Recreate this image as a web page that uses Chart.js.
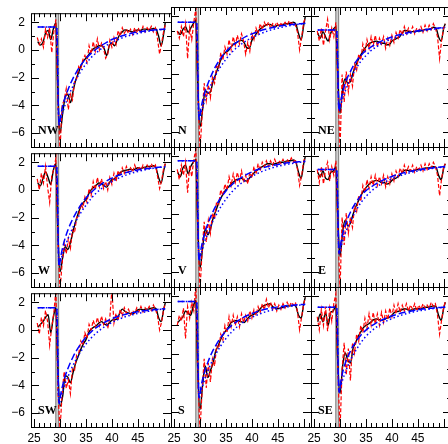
<!DOCTYPE html>
<html>
<head>
<meta charset="utf-8">
<script src="https://cdn.jsdelivr.net/npm/chart.js@4.4.0/dist/chart.umd.min.js"></script>
<style>
  html, body { margin: 0; padding: 0; background: #fff; }
  #grid { position: relative; width: 448px; height: 444px; overflow: hidden; }
  #grid canvas { position: absolute; }
</style>
</head>
<body>
<div id="grid"></div>
<script>
// shared x positions
const blackX = [25.7, 26.2, 26.7, 27.2, 27.7, 28.2, 28.7, 29.2, 29.5, 30.0, 30.5, 31.0, 31.5, 32.0, 32.5, 33.0, 33.5, 34.0, 34.5, 35.0, 35.5, 36.0, 36.5, 37.0, 37.5, 38.0, 38.5, 39.0, 39.5, 40.0, 40.5, 41.0, 41.5, 42.0, 42.5, 43.0, 43.5, 44.0, 44.5, 45.0, 45.5, 46.0, 46.5, 47.0, 47.5, 48.0, 48.5, 49.0, 49.5, 50.0, 50.3];
const redX = [25.6, 26.0, 26.4, 26.8, 27.2, 27.6, 28.0, 28.4, 28.8, 29.2, 29.6, 30.0, 30.4, 30.8, 31.2, 31.6, 32.0, 32.4, 32.8, 33.2, 33.6, 34.0, 34.4, 34.8, 35.2, 35.6, 36.0, 36.4, 36.8, 37.2, 37.6, 38.0, 38.4, 38.8, 39.2, 39.6, 40.0, 40.4, 40.8, 41.2, 41.6, 42.0, 42.4, 42.8, 43.2, 43.6, 44.0, 44.4, 44.8, 45.2, 45.6, 46.0, 46.4, 46.8, 47.2, 47.6, 48.0, 48.4, 48.8, 49.2, 49.6, 50.0, 50.3];
const fitX = [25.7, 29.35, 29.8, 30.2, 30.6, 31.0, 31.5, 32.0, 32.5, 33.0, 34.0, 35.0, 36.0, 37.0, 38.0, 39.0, 40.0, 41.0, 42.0, 43.0, 44.0, 45.0, 46.0, 47.0, 48.0, 49.0, 50.3];

const xTicks = [25, 30, 35, 40, 45];
const yTicks = [-6, -4, -2, 0, 2];
const xMin = 24.4, xMax = 51.4;
const yMin = -7, yMax = 2.65;
const divider = 29.45;

const panelNames = ['NW', 'N', 'NE', 'W', 'V', 'E', 'SW', 'S', 'SE'];

const nwBlack = [0.6, 0.35, 0.55, 1.2, 1.4, 0.75, 1.5, 1.95, -2.0, -6.0, -4.6, -3.4, -3.2, -3.8, -3.0, -2.2, -1.7, -1.2, -0.8, -0.6, -0.35, -0.1, 0.1, 0.2, 0.3, 0.3, 0.1, -0.4, 0.3, 0.5, 0.3, 0.7, 1.1, 1.3, 1.45, 1.4, 1.35, 1.3, 1.4, 1.45, 1.4, 1.5, 1.5, 1.45, 1.5, 1.55, 1.5, 1.0, 0.3, 1.2, 2.0];
const nwRed = [0.9, 0.4, 0.8, 0.2, 1.5, 0.9, 1.6, -0.2, 1.3, 2.2, -4.0, -7.2, -4.0, -3.6, -2.8, -4.3, -3.2, -3.6, -2.3, -2.1, -1.2, -1.4, -0.7, -0.4, -0.9, 0.3, -0.3, 0.6, -0.1, 0.8, 0.0, 0.5, 0.1, -0.6, -0.3, 0.7, 0.2, 0.9, 0.4, 1.4, 1.0, 1.6, 1.2, 1.5, 1.2, 1.5, 1.1, 1.6, 1.2, 1.6, 1.3, 1.7, 1.3, 1.6, 1.4, 1.7, 1.3, 1.6, 0.8, -0.3, 0.5, 1.4, 1.8];
const nwFit = [1.65, 1.65, -5.4, -4.6, -3.9, -3.4, -2.9, -2.45, -2.05, -1.7, -1.1, -0.62, -0.25, 0.07, 0.33, 0.55, 0.75, 0.9, 1.03, 1.13, 1.22, 1.29, 1.35, 1.4, 1.44, 1.47, 1.5];
const nwFit2 = [1.65, 1.65, -5.4, -4.9, -4.4, -3.95, -3.45, -3.0, -2.6, -2.2, -1.55, -1.0, -0.55, -0.2, 0.1, 0.35, 0.55, 0.72, 0.87, 1.0, 1.1, 1.19, 1.27, 1.34, 1.4, 1.45, 1.5];

const nBlack = [0.95, 0.75, 1.1, 1.3, 0.9, 1.2, 1.5, 1.75, -2.0, -5.6, -4.4, -3.1, -3.3, -3.2, -2.5, -2.0, -1.5, -1.0, -0.65, -0.45, -0.35, -0.1, 0.1, 0.2, 0.3, 0.35, 0.2, -0.15, -0.2, 0.35, 0.6, 0.9, 1.1, 1.25, 1.35, 1.45, 1.45, 1.35, 1.3, 1.4, 1.4, 1.45, 1.5, 1.5, 1.55, 1.6, 1.45, 0.8, 0.4, 1.4, 2.0];
const nRed = [1.0, 0.5, 1.3, 0.6, 1.5, -0.9, 1.2, 0.4, 1.6, 2.6, -3.5, -7.2, -4.8, -2.6, -3.8, -2.7, -3.6, -2.2, -2.6, -1.4, -1.6, -0.5, -1.0, -0.1, -0.6, 0.4, -0.3, 0.6, 0.0, 0.7, 0.1, 0.8, 0.3, -0.6, 0.2, -0.4, 0.8, 0.4, 1.2, 0.8, 1.5, 1.1, 1.6, 1.3, 1.6, 1.2, 1.5, 1.3, 1.6, 1.3, 1.5, 1.4, 1.6, 1.4, 1.7, 1.5, 1.6, 1.4, 0.9, -0.3, 0.6, 1.6, 1.9];
const nFit = [1.6, 1.6, -5.1, -4.3, -3.65, -3.15, -2.65, -2.2, -1.8, -1.45, -0.88, -0.42, -0.08, 0.2, 0.44, 0.64, 0.8, 0.94, 1.06, 1.16, 1.24, 1.31, 1.37, 1.42, 1.46, 1.5, 1.53];
const nFit2 = [1.6, 1.6, -5.1, -4.6, -4.15, -3.7, -3.25, -2.8, -2.4, -2.05, -1.45, -0.95, -0.52, -0.18, 0.1, 0.34, 0.54, 0.71, 0.86, 0.99, 1.1, 1.19, 1.27, 1.34, 1.4, 1.46, 1.52];

const neBlack = [0.85, 0.5, 0.95, 0.6, 0.3, 0.85, 1.1, 1.3, -1.5, -4.7, -3.0, -2.3, -2.6, -2.5, -1.9, -1.4, -1.0, -0.65, -0.35, -0.1, 0.1, 0.2, 0.25, 0.3, 0.25, 0.15, 0.15, 0.05, 0.05, 0.3, 0.4, 0.5, 0.6, 0.85, 1.05, 1.0, 0.95, 0.95, 0.95, 1.0, 1.0, 1.05, 1.1, 1.1, 1.15, 1.25, 1.2, 0.6, 0.3, 1.2, 1.5];
const neRed = [1.0, 0.3, 1.2, 0.0, 1.0, 1.8, 0.4, 1.2, 0.6, 1.6, -3.0, -7.2, -2.0, -3.9, -1.8, -3.2, -2.0, -2.8, -1.3, -1.7, -0.6, -1.0, 0.1, -0.5, 0.4, -0.2, 0.6, 0.0, 0.7, -0.1, 0.5, 0.1, 0.6, -0.2, 0.5, 0.0, 0.7, 0.2, 0.9, 0.5, 1.1, 0.7, 1.3, 0.8, 1.2, 0.9, 1.3, 0.8, 1.2, 1.0, 1.3, 0.9, 1.4, 1.0, 1.4, 1.1, 1.5, 1.2, 0.6, -0.9, 0.4, 1.2, 1.5];
const neFit = [1.06, 1.06, -4.5, -3.7, -3.1, -2.6, -2.15, -1.8, -1.45, -1.15, -0.7, -0.35, -0.1, 0.12, 0.3, 0.45, 0.58, 0.7, 0.8, 0.88, 0.95, 1.02, 1.08, 1.12, 1.16, 1.2, 1.25];
const neFit2 = [1.06, 1.06, -4.5, -4.0, -3.55, -3.15, -2.7, -2.3, -1.95, -1.65, -1.1, -0.7, -0.35, -0.1, 0.12, 0.3, 0.45, 0.58, 0.7, 0.8, 0.88, 0.95, 1.0, 1.06, 1.12, 1.17, 1.22];

const wBlack = [0.5, 0.3, 0.8, 1.3, 0.9, 0.4, 1.4, 1.9, -2.0, -5.9, -4.9, -4.1, -4.3, -3.8, -3.0, -2.3, -1.7, -1.2, -0.9, -0.7, -0.3, 0.0, 0.2, 0.35, 0.5, 0.45, 0.3, 0.2, 0.5, 0.75, 0.8, 1.0, 1.2, 1.35, 1.4, 1.45, 1.5, 1.45, 1.5, 1.6, 1.55, 1.6, 1.65, 1.7, 1.7, 1.75, 1.6, 0.9, 0.5, 1.4, 1.9];
const wRed = [0.8, 0.0, 1.2, 0.5, 1.7, 0.2, -0.9, 1.0, 1.5, 2.3, -3.8, -7.2, -5.3, -3.9, -4.6, -3.5, -4.2, -2.9, -3.1, -2.0, -1.9, -1.0, -1.3, -0.5, -0.9, 0.1, -0.4, 0.6, 0.0, 0.9, 0.2, 0.8, 0.1, 0.6, 0.0, 0.9, 0.4, 1.2, 0.6, 1.4, 1.0, 1.6, 1.2, 1.7, 1.3, 1.6, 1.3, 1.8, 1.4, 1.7, 1.4, 1.8, 1.5, 1.8, 1.5, 1.9, 1.6, 1.8, 1.0, 0.1, 0.7, 1.6, 1.9];
const wFit = [1.7, 1.7, -5.5, -4.7, -4.0, -3.45, -2.9, -2.45, -2.05, -1.7, -1.08, -0.58, -0.18, 0.15, 0.42, 0.65, 0.85, 1.02, 1.16, 1.27, 1.36, 1.44, 1.5, 1.55, 1.6, 1.63, 1.67];
const wFit2 = [1.7, 1.7, -5.5, -5.0, -4.5, -4.05, -3.55, -3.1, -2.7, -2.3, -1.65, -1.1, -0.62, -0.22, 0.1, 0.37, 0.6, 0.8, 0.97, 1.11, 1.23, 1.33, 1.42, 1.5, 1.56, 1.62, 1.67];

const vBlack = [0.9, 0.6, 1.2, 1.4, 0.8, 1.3, 1.6, 1.8, -2.2, -5.7, -4.3, -3.0, -3.4, -3.0, -2.3, -1.8, -1.3, -0.9, -0.55, -0.3, -0.1, 0.1, 0.25, 0.4, 0.45, 0.5, 0.35, 0.3, 0.5, 0.7, 0.9, 1.05, 1.2, 1.3, 1.4, 1.5, 1.5, 1.45, 1.5, 1.55, 1.6, 1.6, 1.65, 1.7, 1.7, 1.75, 1.6, 0.9, 0.5, 1.5, 2.0];
const vRed = [1.1, 0.4, 1.4, 0.7, 1.6, -0.5, 1.4, 0.6, 1.8, 2.5, -3.6, -7.2, -4.5, -2.5, -3.9, -2.4, -3.3, -1.9, -2.3, -1.1, -1.3, -0.3, -0.7, 0.1, -0.3, 0.6, 0.0, 0.8, 0.2, 0.9, 0.3, 1.0, 0.2, 0.7, 0.1, 0.9, 0.5, 1.3, 0.8, 1.5, 1.0, 1.6, 1.3, 1.7, 1.3, 1.7, 1.4, 1.8, 1.4, 1.7, 1.5, 1.8, 1.5, 1.8, 1.6, 1.9, 1.6, 1.8, 1.1, 0.0, 0.7, 1.7, 2.0];
const vFit = [1.7, 1.7, -5.2, -4.35, -3.7, -3.15, -2.65, -2.2, -1.8, -1.45, -0.85, -0.38, 0.0, 0.3, 0.55, 0.76, 0.93, 1.08, 1.2, 1.3, 1.38, 1.45, 1.51, 1.56, 1.6, 1.63, 1.67];
const vFit2 = [1.7, 1.7, -5.2, -4.7, -4.2, -3.75, -3.3, -2.85, -2.45, -2.1, -1.48, -0.95, -0.5, -0.14, 0.17, 0.42, 0.63, 0.81, 0.97, 1.1, 1.22, 1.32, 1.4, 1.47, 1.53, 1.59, 1.65];

const eBlack = [0.9, 0.6, 1.0, 0.5, 0.4, 0.9, 1.0, 1.3, -1.6, -4.9, -3.2, -2.4, -2.8, -2.6, -2.0, -1.5, -1.1, -0.7, -0.4, -0.15, 0.05, 0.2, 0.3, 0.35, 0.3, 0.2, 0.2, 0.1, 0.15, 0.35, 0.45, 0.55, 0.7, 0.9, 1.05, 1.05, 1.0, 1.0, 1.05, 1.1, 1.1, 1.15, 1.2, 1.2, 1.25, 1.3, 1.25, 0.7, 0.4, 1.2, 1.5];
const eRed = [1.1, 0.2, 1.3, 0.1, 1.1, 1.6, 0.3, 1.3, 0.7, 1.7, -3.2, -7.2, -2.2, -4.1, -1.9, -3.3, -2.2, -2.9, -1.4, -1.8, -0.7, -1.1, 0.0, -0.5, 0.4, -0.2, 0.6, 0.0, 0.7, 0.0, 0.6, 0.1, 0.7, -0.1, 0.6, 0.1, 0.8, 0.3, 1.0, 0.6, 1.2, 0.8, 1.4, 0.9, 1.3, 1.0, 1.4, 0.9, 1.3, 1.1, 1.4, 1.0, 1.5, 1.1, 1.5, 1.2, 1.6, 1.3, 0.7, -0.7, 0.5, 1.3, 1.5];
const eFit = [1.1, 1.1, -4.7, -3.85, -3.2, -2.7, -2.25, -1.85, -1.5, -1.2, -0.72, -0.36, -0.1, 0.13, 0.32, 0.48, 0.62, 0.74, 0.85, 0.94, 1.01, 1.08, 1.13, 1.18, 1.22, 1.26, 1.3];
const eFit2 = [1.1, 1.1, -4.7, -4.2, -3.7, -3.3, -2.85, -2.45, -2.1, -1.78, -1.2, -0.76, -0.4, -0.12, 0.11, 0.3, 0.46, 0.6, 0.72, 0.83, 0.92, 1.0, 1.06, 1.12, 1.18, 1.23, 1.28];

const swBlack = [0.2, 0.4, 0.6, 0.9, 1.1, -0.2, 0.9, 1.6, -2.0, -5.5, -4.8, -3.3, -3.4, -3.8, -3.1, -2.4, -1.9, -1.4, -1.0, -0.7, -0.2, 0.05, 0.2, 0.3, 0.5, 0.6, 0.45, 0.35, 0.5, 0.7, 0.75, 0.8, 1.2, 1.5, 1.35, 1.25, 1.2, 1.15, 1.3, 1.45, 1.5, 1.45, 1.5, 1.5, 1.55, 1.6, 1.55, 0.9, 0.6, 1.5, 1.95];
const swRed = [0.5, -0.3, 0.9, 0.3, 1.4, 0.6, -1.1, 0.2, 1.2, 2.9, -4.5, -7.2, -4.6, -3.0, -4.2, -3.6, -4.6, -2.8, -2.9, -1.8, -1.7, -0.8, -1.1, -0.2, -0.6, 0.4, 0.0, 0.7, 0.2, 0.9, 0.3, 1.0, 0.4, 0.8, 0.1, 0.9, 2.9, 0.5, 1.2, 0.7, 1.5, 1.0, 1.6, 1.2, 1.5, 1.1, 1.4, 1.2, 1.6, 1.3, 1.7, 1.3, 1.6, 1.4, 1.7, 1.4, 1.8, 1.5, 1.0, 0.0, 0.6, 1.5, 1.9];
const swFit = [1.6, 1.6, -5.3, -4.5, -3.85, -3.3, -2.8, -2.35, -1.95, -1.6, -1.0, -0.52, -0.14, 0.17, 0.42, 0.63, 0.8, 0.95, 1.07, 1.17, 1.25, 1.32, 1.38, 1.42, 1.46, 1.5, 1.53];
const swFit2 = [1.6, 1.6, -5.3, -4.8, -4.3, -3.85, -3.4, -2.95, -2.55, -2.2, -1.55, -1.02, -0.58, -0.22, 0.08, 0.33, 0.54, 0.72, 0.87, 1.0, 1.1, 1.19, 1.27, 1.34, 1.4, 1.46, 1.52];

const sBlack = [0.2, 0.4, 0.6, 1.0, 0.85, 0.7, 1.35, 1.7, -2.5, -5.8, -4.1, -2.8, -3.6, -3.1, -2.6, -1.8, -1.4, -0.95, -0.6, -0.35, -0.1, 0.2, 0.3, 0.35, 0.3, 0.25, 0.2, 0.4, 0.6, 0.7, 0.8, 0.9, 1.1, 1.3, 1.4, 1.45, 1.5, 1.3, 1.2, 1.15, 1.2, 1.25, 1.3, 1.35, 1.35, 1.4, 1.3, 0.7, 0.5, 1.5, 1.95];
const sRed = [0.0, 0.7, 0.3, 1.2, -0.9, 1.3, 0.5, 1.6, 1.0, 2.9, -4.0, -7.2, -4.5, -2.3, -4.3, -2.6, -3.9, -2.3, -2.8, -1.4, -1.6, -0.6, -1.0, 0.0, -0.5, 0.6, -0.1, 0.7, 0.0, 0.6, -0.1, 0.8, 0.2, 0.7, 0.3, 1.0, 0.5, 1.1, 0.7, 1.3, 0.9, 1.5, 1.1, 1.8, 1.2, 1.6, 1.1, 1.5, 1.0, 1.4, 1.1, 1.5, 1.2, 1.6, 1.3, 1.6, 1.4, 1.6, 0.9, -0.3, 0.6, 1.5, 1.9];
const sFit = [1.65, 1.65, -5.0, -4.2, -3.55, -3.05, -2.55, -2.1, -1.72, -1.4, -0.83, -0.38, -0.03, 0.25, 0.48, 0.67, 0.82, 0.95, 1.06, 1.15, 1.22, 1.28, 1.33, 1.37, 1.4, 1.43, 1.46];
const sFit2 = [1.65, 1.65, -5.0, -4.5, -4.05, -3.6, -3.15, -2.72, -2.33, -2.0, -1.4, -0.9, -0.48, -0.14, 0.14, 0.37, 0.56, 0.72, 0.86, 0.98, 1.07, 1.15, 1.22, 1.28, 1.34, 1.39, 1.44];

const seBlack = [0.25, 0.8, 0.25, 0.9, 0.0, 0.9, 1.0, 1.4, -2.0, -4.7, -2.8, -1.9, -2.4, -2.6, -1.6, -1.2, -0.75, -0.45, -0.15, 0.0, 0.1, 0.25, 0.4, 0.45, 0.4, 0.35, 0.4, 0.5, 0.55, 0.7, 0.9, 0.95, 1.0, 1.1, 1.15, 1.1, 1.05, 1.1, 1.15, 1.15, 1.15, 1.2, 1.25, 1.25, 1.3, 1.35, 1.3, 0.7, 0.35, 1.2, 1.6];
const seRed = [0.6, -0.3, 1.1, 0.0, 1.3, -0.4, 1.2, 0.3, 1.5, 2.2, -3.5, -7.2, -3.0, -1.2, -3.4, -1.6, -3.8, -1.2, -1.9, -0.6, -1.1, 0.0, -0.5, 0.5, -0.2, 0.8, 0.0, 0.9, 0.1, 0.8, 0.0, 0.9, 0.2, 1.0, 0.4, 1.2, 0.6, 1.4, 0.8, 1.5, 0.9, 1.4, 1.0, 1.5, 1.0, 1.4, 1.1, 1.5, 1.0, 1.4, 1.1, 1.5, 1.2, 1.4, 1.2, 1.6, 1.3, 1.5, 0.7, -0.6, 0.4, 1.3, 1.6];
const seFit = [1.26, 1.26, -4.6, -3.75, -3.1, -2.6, -2.15, -1.77, -1.43, -1.15, -0.68, -0.32, -0.05, 0.18, 0.36, 0.52, 0.65, 0.77, 0.87, 0.95, 1.02, 1.08, 1.13, 1.17, 1.21, 1.24, 1.27];
const seFit2 = [1.26, 1.26, -4.6, -4.1, -3.65, -3.25, -2.8, -2.4, -2.05, -1.75, -1.2, -0.75, -0.4, -0.12, 0.12, 0.31, 0.47, 0.61, 0.73, 0.83, 0.92, 0.99, 1.05, 1.11, 1.16, 1.21, 1.26];

const blackSeries = [nwBlack, nBlack, neBlack, wBlack, vBlack, eBlack, swBlack, sBlack, seBlack];
const redSeries = [nwRed, nRed, neRed, wRed, vRed, eRed, swRed, sRed, seRed];
const fitSeries = [nwFit, nFit, neFit, wFit, vFit, eFit, swFit, sFit, seFit];
const fit2Series = [nwFit2, nFit2, neFit2, wFit2, vFit2, eFit2, swFit2, sFit2, seFit2];

// panel geometry (px)
const PLOT = 140, LEFT = 31, TOP = 7, RIGHT_PAD = 12, AXIS_H = 18;

const pairs = (xs, ys) => xs.map((x, i) => ({ x: x, y: ys[i] }));
const minus = v => (v < 0 ? '\u2212' + Math.abs(v) : String(v));

// box, inward ticks on all four sides and the panel name
const frameTicks = {
  id: 'frameTicks',
  afterDatasetsDraw(chart, args, opts) {
    const { ctx, chartArea: a, scales: { x, y } } = chart;
    ctx.save();
    ctx.strokeStyle = '#000';
    ctx.lineWidth = 1;
    ctx.strokeRect(a.left + 0.5, a.top + 0.5, a.right - a.left, a.bottom - a.top);
    ctx.beginPath();
    for (let v = 25; v <= 51; v++) {
      const px = Math.round(x.getPixelForValue(v)) + 0.5;
      const len = v % 5 === 0 ? 8 : 4;
      ctx.moveTo(px, a.bottom); ctx.lineTo(px, a.bottom - len);
      ctx.moveTo(px, a.top); ctx.lineTo(px, a.top + len);
    }
    for (let v = -7; v <= 2; v++) {
      const py = Math.round(y.getPixelForValue(v)) + 0.5;
      const len = v % 2 === 0 ? 8 : 4;
      ctx.moveTo(a.left, py); ctx.lineTo(a.left + len, py);
      ctx.moveTo(a.right, py); ctx.lineTo(a.right - len, py);
    }
    ctx.stroke();
    ctx.fillStyle = '#000';
    ctx.font = 'bold 12px "Liberation Serif", serif';
    ctx.textBaseline = 'alphabetic';
    ctx.fillText(opts.name, a.left + 7, a.bottom - 13);
    ctx.restore();
  }
};

const grid = document.getElementById('grid');

panelNames.forEach((name, i) => {
  const row = Math.floor(i / 3), col = i % 3;
  const canvas = document.createElement('canvas');
  canvas.width = LEFT + PLOT + RIGHT_PAD;
  canvas.height = TOP + PLOT + AXIS_H;
  canvas.style.left = (col * PLOT) + 'px';
  canvas.style.top = (row * PLOT) + 'px';
  grid.appendChild(canvas);

  new Chart(canvas, {
    type: 'line',
    data: {
      datasets: [
        {
          data: pairs(fitX, fitSeries[i]),
          borderColor: '#0000ff', borderWidth: 1.5, borderDash: [7, 3],
          cubicInterpolationMode: 'monotone'
        },
        {
          data: pairs(fitX, fit2Series[i]),
          borderColor: '#0000ff', borderWidth: 1.5, borderDash: [1.5, 2.5],
          cubicInterpolationMode: 'monotone'
        },
        {
          data: pairs(redX, redSeries[i]),
          borderColor: '#ff0000', borderWidth: 1.2, borderDash: [4, 2]
        },
        {
          data: pairs(blackX, blackSeries[i]),
          borderColor: '#000000', borderWidth: 1.4,
          cubicInterpolationMode: 'monotone'
        },
        {
          data: [{ x: divider, y: yMin - 1 }, { x: divider, y: yMax + 1 }],
          borderColor: '#d4d4d4', borderWidth: 1.5
        },
        {
          data: [{ x: divider, y: yMin - 1 }, { x: divider, y: yMax + 1 }],
          borderColor: '#8a8a8a', borderWidth: 4
        }
      ]
    },
    options: {
      responsive: false,
      animation: false,
      events: [],
      layout: { autoPadding: false, padding: { top: TOP, right: RIGHT_PAD, left: 0, bottom: 0 } },
      elements: { point: { radius: 0 }, line: { tension: 0 } },
      plugins: {
        legend: { display: false },
        tooltip: { enabled: false },
        frameTicks: { name: name }
      },
      scales: {
        x: {
          type: 'linear', min: xMin, max: xMax,
          grid: { display: false, drawTicks: false },
          border: { display: false },
          afterBuildTicks: s => { s.ticks = xTicks.map(v => ({ value: v })); },
          afterFit: s => { s.height = AXIS_H; },
          ticks: {
            display: row === 2, padding: 4, color: '#000',
            font: { family: '"Liberation Sans", Arial, sans-serif', size: 12 },
            maxRotation: 0, autoSkip: false,
            callback: v => String(v)
          }
        },
        y: {
          type: 'linear', min: yMin, max: yMax,
          grid: { display: false, drawTicks: false },
          border: { display: false },
          afterBuildTicks: s => { s.ticks = yTicks.map(v => ({ value: v })); },
          afterFit: s => { s.width = LEFT; },
          ticks: {
            display: col === 0, padding: 6, color: '#000',
            font: { family: '"Liberation Sans", Arial, sans-serif', size: 12 },
            autoSkip: false,
            callback: v => minus(v)
          }
        }
      }
    },
    plugins: [frameTicks]
  });
});
</script>
</body>
</html>
